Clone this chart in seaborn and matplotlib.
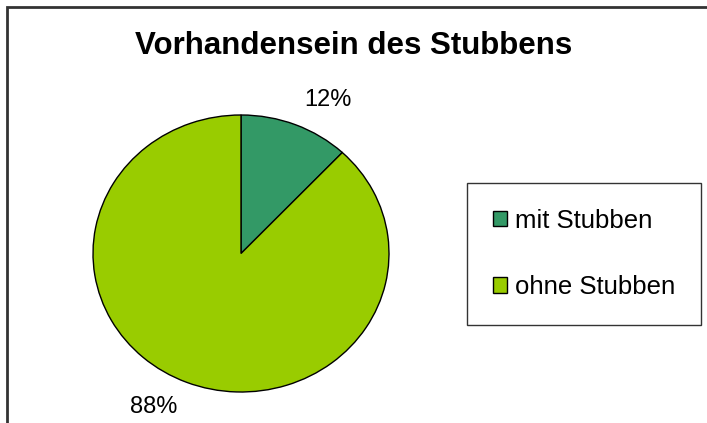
import numpy as np
import matplotlib
matplotlib.use("Agg")
import matplotlib.pyplot as plt
import seaborn as sns
from matplotlib.patches import Rectangle

# dados do grafico
categorias = ["mit Stubben", "ohne Stubben"]
anteile = [12, 88]
cores = ["#339966", "#99CC00"]
titulo = "Vorhandensein des Stubbens"

sns.set_theme(style="white")
plt.rcParams["font.family"] = ["Liberation Sans", "DejaVu Sans"]

fig = plt.figure(figsize=(7.07, 4.23), dpi=100)
W, H = 707, 423

# moldura em volta do grafico (a parte de baixo fica cortada como no original)
fig.patches.append(Rectangle((7 / W, -0.1), 1.0, (H - 7) / H + 0.1,
                             transform=fig.transFigure, fill=False,
                             edgecolor="#333333", linewidth=2))

fig.text(354 / W, 1 - 46 / H, titulo, ha="center", va="center",
         fontsize=22.5, fontweight="bold", color="black")

# eixo da pizza (levemente eliptica como no original)
ax = fig.add_axes([93 / W, (H - 392) / H, 296 / W, 277 / H])
pal = sns.color_palette(cores)
wedges, _ = ax.pie(anteile, colors=pal, startangle=90, counterclock=False,
                   wedgeprops=dict(edgecolor="black", linewidth=1))
ax.set_aspect("auto")
ax.set_xlim(-1, 1)
ax.set_ylim(-1, 1)
ax.axis("off")

for w, v in zip(wedges, anteile):
    meio = np.deg2rad((w.theta1 + w.theta2) / 2)
    ax.text(1.6 * np.cos(meio), 1.19 * np.sin(meio), f"{v}%",
            ha="center", va="center", fontsize=17, color="black",
            clip_on=False)

# legenda
handles = [Rectangle((0, 0), 1, 1, facecolor=c, edgecolor="black", linewidth=1)
           for c in pal]
leg = fig.legend(handles, categorias, loc="center",
                 bbox_to_anchor=(584 / W, 1 - 254 / H),
                 fontsize=18.5, frameon=True, fancybox=False,
                 edgecolor="black", labelspacing=1.65, handlelength=0.55,
                 handleheight=0.55, handletextpad=0.32, borderpad=1.0,
                 borderaxespad=0)
leg.get_frame().set_linewidth(1)
for t in leg.get_texts():
    t.set_color("black")

fig.savefig("out.png", dpi=100)
